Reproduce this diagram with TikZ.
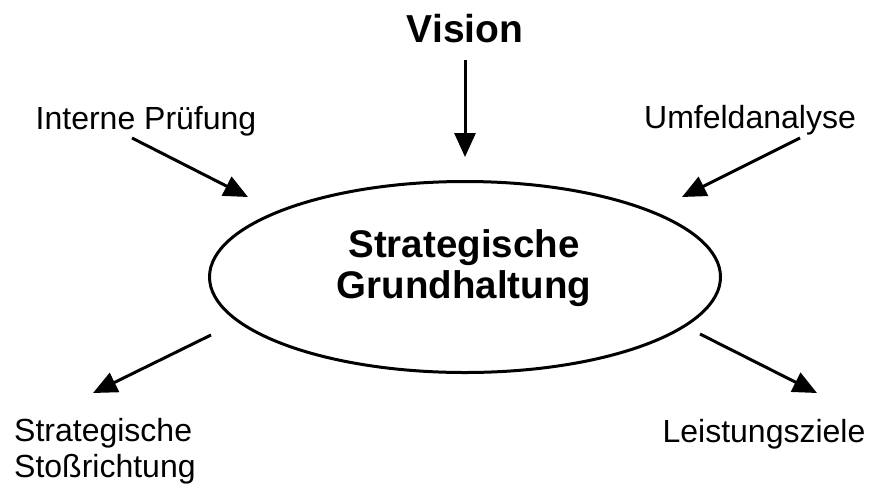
\documentclass[tikz,border=0pt]{standalone}
\usepackage{fontspec}
\setmainfont{Liberation Sans}
\usetikzlibrary{arrows.meta}
\usetikzlibrary{shapes.geometric}

\begin{document}
\begin{tikzpicture}[x=1pt,y=-1pt]
\tikzset{font=\fontsize{32}{36}\selectfont}
\tikzset{every node/.style={inner sep=0pt}}
\tikzset{label/.style={anchor=base}}
\tikzset{core/.style={ellipse, draw, line width=3pt, minimum width=511pt, minimum height=191pt}}
\tikzset{coretext/.style={align=center, font=\fontsize{38.5}{41}\selectfont\bfseries}}
\tikzset{feed/.style={line width=3pt, -{Triangle[length=24pt,width=21pt]}}}
\useasboundingbox (0,0) rectangle (872,488);
\node[core] (gh) at (465,277) {};
\node[coretext] (ght) at (464,268) {Strategische\\Grundhaltung};
\node[label, font=\fontsize{39}{41}\selectfont\bfseries] (vis) at (465,42) {Vision};
\node[label] (ip) at (146,129) {Interne Prüfung};
\node[label] (ua) at (750,128) {Umfeldanalyse};
\node[label] (lz) at (764,442) {Leistungsziele};
\node[anchor=base west, align=left] (sr) at (14,477) {Strategische\\Stoßrichtung};
\coordinate (visA) at (465,60); \coordinate (visB) at (465,157);
\coordinate (ipA) at (132,138); \coordinate (ipB) at (248,197);
\coordinate (uaA) at (800,138); \coordinate (uaB) at (682,197);
\coordinate (srA) at (211,335); \coordinate (srB) at (93,393);
\coordinate (lzA) at (700,334); \coordinate (lzB) at (817,393);
\draw[feed] (visA) -- (visB);
\draw[feed] (ipA) -- (ipB);
\draw[feed] (uaA) -- (uaB);
\draw[feed] (srA) -- (srB);
\draw[feed] (lzA) -- (lzB);
\end{tikzpicture}
\end{document}
